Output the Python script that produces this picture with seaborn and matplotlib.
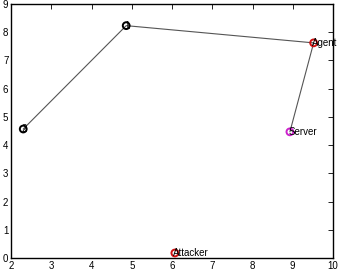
import pandas as pd
import seaborn as sns
import matplotlib.pyplot as plt

# node positions
names = ["2", "1", "Agent", "Server", "Attacker"]
xs = [2.3, 4.86, 9.52, 8.93, 6.07]
ys = [4.57, 8.23, 7.62, 4.47, 0.18]
colors = ["black", "black", "#d01010", "#cc22cc", "#d01010"]

# path through the nodes
path = ["2", "1", "Agent", "Server"]

df = pd.DataFrame({"name": names, "x": xs, "y": ys, "color": colors})
route = df.set_index("name").loc[path].reset_index()

sns.set_style("white")
plt.rcParams["font.family"] = ["Liberation Sans", "DejaVu Sans"]
plt.rcParams["text.color"] = "black"
plt.rcParams["xtick.color"] = "black"
plt.rcParams["ytick.color"] = "black"

fig = plt.figure(figsize=(3.49, 2.79), dpi=100)
ax = fig.add_axes([0.032, 0.075, 0.922, 0.911])

sns.lineplot(data=route, x="x", y="y", sort=False, color="#555555",
             linewidth=0.8, ax=ax, estimator=None)
sns.scatterplot(data=df, x="x", y="y", hue="name",
                palette=dict(zip(df["name"], df["color"])),
                marker="o", s=24, linewidth=1.4,
                legend=False, ax=ax, zorder=3)
# hollow rings
for coll in ax.collections:
    coll.set_facecolor("none")
    coll.set_edgecolor(df["color"].tolist())

for n, x, y in zip(names, xs, ys):
    ax.text(x - 0.04, y, n, fontsize=7, va="center", ha="left",
            color="black", zorder=4)

ax.set_xlim(2, 10)
ax.set_ylim(0, 9)
ax.set_xticks(range(2, 11))
ax.set_yticks(range(0, 10))
ax.set_xlabel("")
ax.set_ylabel("")
ax.tick_params(direction="in", length=3.5, width=0.6, labelsize=7,
               top=True, right=True, pad=2)
for s in ax.spines.values():
    s.set_linewidth(1.0)
    s.set_color("black")

fig.savefig("out.png", dpi=100)
